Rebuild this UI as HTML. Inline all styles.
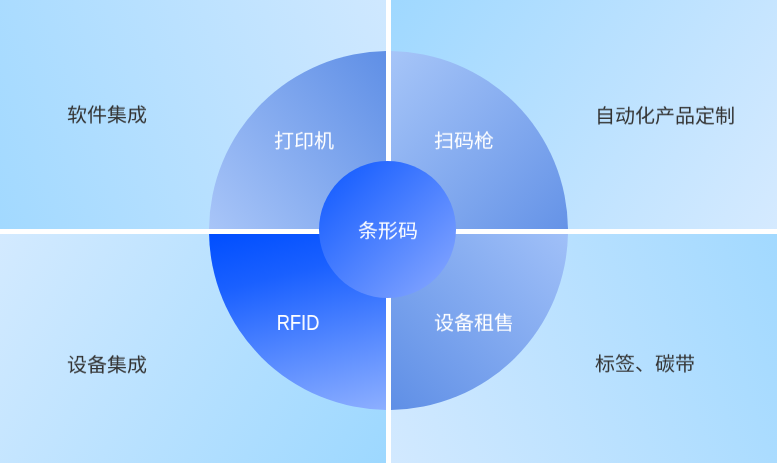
<!DOCTYPE html>
<html lang="zh-CN">
<head>
<meta charset="utf-8">
<title>条形码</title>
<style>
html,body{margin:0;padding:0;background:#fff;}
body{width:777px;height:463px;overflow:hidden;position:relative;font-family:"Liberation Sans","Noto Sans CJK SC",sans-serif;}
.wrap{position:absolute;left:0;top:0;width:777px;height:463px;overflow:hidden;background:#fff;}
.q{position:absolute;overflow:hidden;}
.q.tl{left:0;top:0;width:386px;height:229px;background:linear-gradient(70deg,#a2d9ff 0%,#cfe8ff 100%);}
.q.tr{left:391px;top:0;width:386px;height:229px;background:linear-gradient(122deg,#9fd8ff 0%,#d5eaff 100%);}
.q.bl{left:0;top:234px;width:386px;height:229px;background:linear-gradient(120deg,#d3eaff 0%,#9dd8ff 100%);}
.q.br{left:391px;top:234px;width:386px;height:229px;background:linear-gradient(70deg,#d2e9ff 0%,#a2d9ff 100%);}
.s{position:absolute;width:177px;height:178px;}
.s.tl{right:0;bottom:0;clip-path:circle(179.5px at 179.5px 179.5px);background:linear-gradient(50deg,#a8c5f8 0%,#5f8fe6 100%);}
.s.tr{left:0;bottom:0;clip-path:circle(179.5px at -2.5px 179.5px);background:linear-gradient(135deg,#a6c5f8 0%,#6593e7 100%);}
.s.bl{right:0;top:0;clip-path:circle(179.5px at 179.5px -3.5px);height:176px;background:linear-gradient(166deg,#004eff 0%,#1a60ff 27%,#5a8cff 67%,#8dafff 100%);}
.s.br{left:0;top:0;clip-path:circle(179.5px at -2.5px -3.5px);height:176px;background:linear-gradient(45deg,#5f8fe6 0%,#a0c0f8 100%);}
.c{position:absolute;left:319px;top:160.5px;width:137px;height:137px;border-radius:50%;background:linear-gradient(135deg,#0b56ff 0%,#8baaff 100%);}
.t{position:absolute;will-change:transform;font-size:20px;line-height:28px;height:28px;width:200px;margin:-14px 0 0 -100px;text-align:center;white-space:nowrap;transform:translateY(1.2px) scaleY(0.94);}
.d{color:#333;}
.w{color:#fff;}
</style>
</head>
<body>
<div class="wrap">
  <div class="q tl"><div class="s tl"></div></div>
  <div class="q tr"><div class="s tr"></div></div>
  <div class="q bl"><div class="s bl"></div></div>
  <div class="q br"><div class="s br"></div></div>
  <div class="c"></div>
  <div class="t d" style="left:107px;top:114px;">软件集成</div>
  <div class="t d" style="left:665px;top:115px;">自动化产品定制</div>
  <div class="t d" style="left:107px;top:364px;">设备集成</div>
  <div class="t d" style="left:645px;top:363.1px;">标签、碳带</div>
  <div class="t w" style="left:304px;top:140px;">打印机</div>
  <div class="t w" style="left:464px;top:140px;">扫码枪</div>
  <div class="t w" style="left:298px;top:322.5px;font-size:21.3px;transform:scaleX(0.86);">RFID</div>
  <div class="t w" style="left:474px;top:322px;">设备租售</div>
  <div class="t w" style="left:388px;top:230.3px;">条形码</div>
</div>
</body>
</html>
